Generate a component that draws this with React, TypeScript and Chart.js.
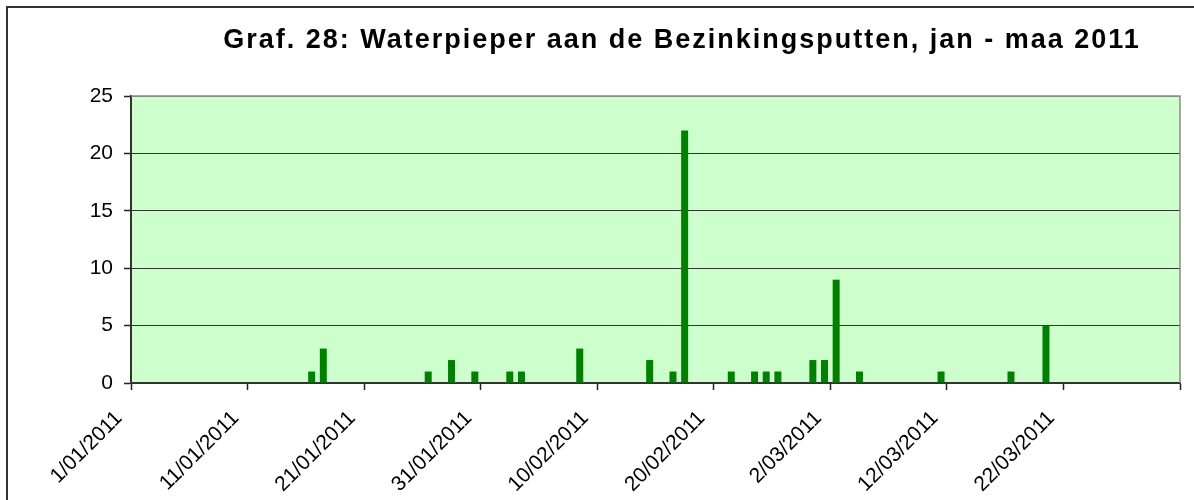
import React, { useEffect, useRef } from "react";
import { Chart, registerables } from "chart.js";

Chart.register(...registerables);

const TITLE = "Graf. 28: Waterpieper aan de Bezinkingsputten, jan - maa 2011";
const START_DATE = "1/01/2011";
const DAYS_SHOWN = 90;
const TICK_STEP = 10;
const Y_TICKS = [0, 5, 10, 15, 20, 25];

const dates = [
  "16/01/2011", "17/01/2011", "26/01/2011", "28/01/2011", "30/01/2011",
  "2/02/2011", "3/02/2011", "8/02/2011", "14/02/2011", "16/02/2011",
  "17/02/2011", "21/02/2011", "23/02/2011", "24/02/2011", "25/02/2011",
  "28/02/2011", "1/03/2011", "2/03/2011", "4/03/2011", "11/03/2011",
  "17/03/2011", "20/03/2011",
];
const counts = [1, 3, 1, 2, 1, 1, 1, 3, 2, 1, 22, 1, 1, 1, 1, 2, 2, 9, 1, 1, 1, 5];

function parseDate(s: string): number {
  const [d, m, y] = s.split("/").map(Number);
  return Date.UTC(y, m - 1, d);
}
const DAY = 86400000;
const start = parseDate(START_DATE);
function dayIndex(s: string) {
  return Math.round((parseDate(s) - start) / DAY);
}
function formatDay(i: number) {
  const dt = new Date(start + i * DAY);
  const d = dt.getUTCDate();
  const m = String(dt.getUTCMonth() + 1).padStart(2, "0");
  return `${d}/${m}/${dt.getUTCFullYear()}`;
}

const FONT = "'Liberation Sans', Arial, sans-serif";

const framePlugin = {
  id: "frame",
  beforeDraw(chart: any) {
    const { ctx, chartArea } = chart;
    ctx.save();
    ctx.fillStyle = "#ffffff";
    ctx.fillRect(0, 0, chart.width, chart.height);
    ctx.fillStyle = "#CCFFCC";
    ctx.fillRect(chartArea.left, chartArea.top, chartArea.right - chartArea.left, chartArea.bottom - chartArea.top);
    ctx.strokeStyle = "#333333";
    ctx.lineWidth = 2;
    ctx.beginPath();
    ctx.moveTo(7, chart.height + 10);
    ctx.lineTo(7, 7);
    ctx.lineTo(chart.width + 10, 7);
    ctx.stroke();
    ctx.restore();
  },
  afterDatasetsDraw(chart: any) {
    const { ctx, chartArea } = chart;
    ctx.save();
    ctx.strokeStyle = "#8a8a8a";
    ctx.lineWidth = 1.5;
    ctx.beginPath();
    ctx.moveTo(chartArea.left, chartArea.top);
    ctx.lineTo(chartArea.right, chartArea.top);
    ctx.lineTo(chartArea.right, chartArea.bottom);
    ctx.stroke();
    ctx.restore();
  },
  afterDraw(chart: any) {
    const { ctx } = chart;
    ctx.save();
    ctx.fillStyle = "#000000";
    ctx.font = `bold 27px ${FONT}`;
    (ctx as any).letterSpacing = "2px";
    ctx.textAlign = "center";
    ctx.textBaseline = "alphabetic";
    ctx.fillText(TITLE, 682, 48);
    ctx.restore();
  },
};

export default function App() {
  const ref = useRef<HTMLCanvasElement | null>(null);
  useEffect(() => {
    if (!ref.current) return;
    const points = dates.map((d, i) => ({ x: dayIndex(d) + 0.5, y: counts[i] }));
    const chart = new Chart(ref.current, {
      type: "bar",
      data: {
        datasets: [
          {
            data: points as any,
            backgroundColor: "#008000",
            borderWidth: 0,
            barPercentage: 0.6,
            categoryPercentage: 1,
          },
        ],
      },
      options: {
        animation: false,
        responsive: true,
        maintainAspectRatio: false,
        layout: { padding: { top: 96, right: 14, left: 0, bottom: 0 } },
        plugins: {
          legend: { display: false },
          title: { display: false },
          tooltip: { enabled: false },
        },
        scales: {
          x: {
            type: "linear",
            min: 0,
            max: DAYS_SHOWN,
            offset: false,
            afterBuildTicks: (axis: any) => {
              const t = [];
              for (let v = 0; v <= DAYS_SHOWN; v += TICK_STEP) t.push({ value: v });
              axis.ticks = t;
            },
            afterFit: (axis: any) => {
              axis.height = 117;
              axis.paddingLeft = 0;
              axis.paddingRight = 0;
            },
            grid: {
              offset: false,
              drawOnChartArea: false,
              drawTicks: true,
              tickLength: 7,
              tickColor: "#222222",
              tickWidth: 1.5,
            },
            border: { color: "#333333", width: 2 },
            ticks: {
              autoSkip: false,
              minRotation: 45,
              maxRotation: 45,
              padding: 16,
              labelOffset: -12,
              color: "#000000",
              font: { family: FONT, size: 21 },
              callback: (v: any) => (Number(v) >= DAYS_SHOWN ? "" : formatDay(Number(v))),
            },
          },
          y: {
            min: 0,
            max: 25,
            afterBuildTicks: (axis: any) => {
              axis.ticks = Y_TICKS.map((v) => ({ value: v }));
            },
            afterFit: (axis: any) => {
              axis.width = 131;
            },
            grid: {
              color: (c: any) => (c.tick && c.tick.value === 25 ? "#8a8a8a" : "#333333"),
              lineWidth: 1,
              tickLength: 7,
              tickColor: "#222222",
              tickWidth: 1.5,
            },
            border: { color: "#333333", width: 2 },
            ticks: {
              padding: 11,
              color: "#000000",
              font: { family: FONT, size: 21 },
            },
          },
        },
      },
      plugins: [framePlugin],
    });
    return () => chart.destroy();
  }, []);
  return (
    <div style={{ position: "fixed", left: 0, top: 0, width: 1194, height: 500, background: "#fff" }}>
      <canvas ref={ref} />
    </div>
  );
}
